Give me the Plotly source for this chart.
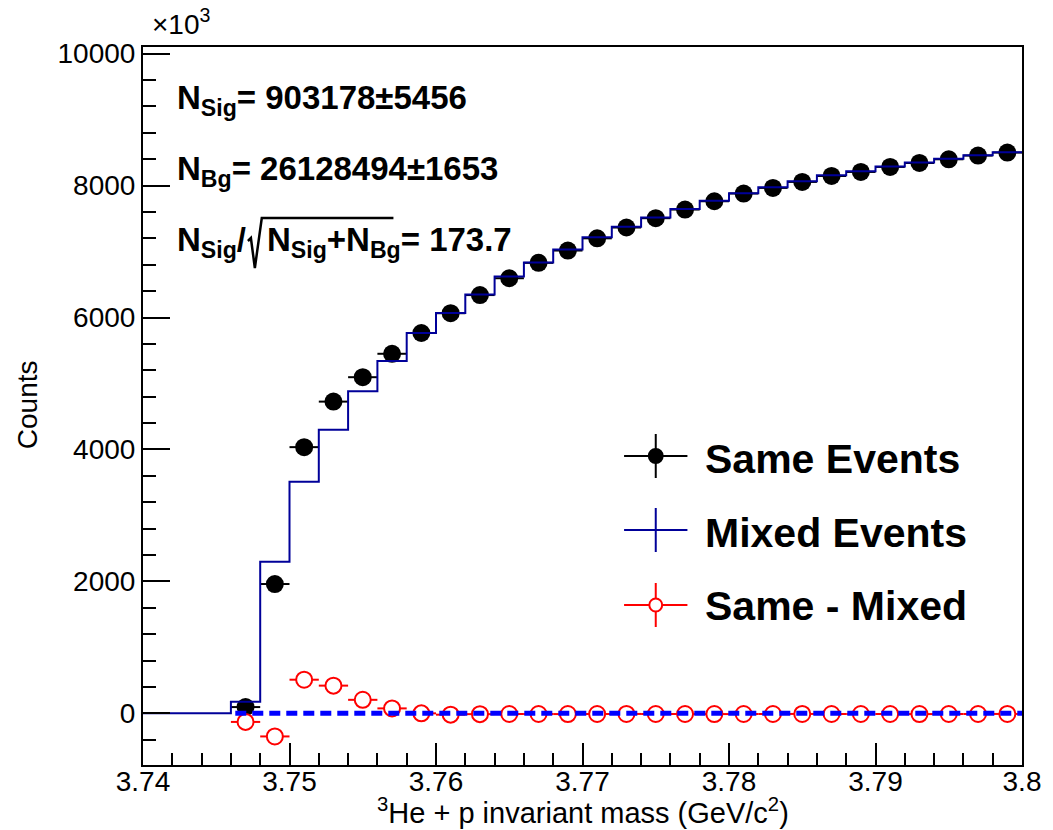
import numpy as np
import plotly.graph_objects as go

# ---------------- data (counts in units of 10^3) ----------------
mass_centers = [3.747, 3.749, 3.751, 3.753, 3.755, 3.757, 3.759, 3.761, 3.763,
                3.765, 3.767, 3.769, 3.771, 3.773, 3.775, 3.777, 3.779, 3.781,
                3.783, 3.785, 3.787, 3.789, 3.791, 3.793, 3.795, 3.797, 3.799]
same_events = [95, 1960, 4035, 4725, 5095, 5450, 5765, 6065, 6340,
               6595, 6828, 7015, 7200, 7364, 7505, 7636, 7762, 7879,
               7964, 8055, 8145, 8206, 8282, 8342, 8398, 8454, 8500]
same_minus_mixed = [-130, -350, 510, 420, 205, 75, 0, -20, -12,
                    -10, -10, -11, -10, -9, -10, -10, -11, -10,
                    -10, -9, -10, -10, -10, -11, -10, -10, -9]
mixed_bin_centers = [3.741, 3.743, 3.745] + mass_centers
mixed_events = [0, 0, 0, 176, 2297, 3509, 4297, 4883, 5342, 5765, 6070, 6350,
                6620, 6835, 7030, 7215, 7375, 7515, 7645, 7770, 7885,
                7975, 8065, 8155, 8215, 8290, 8350, 8405, 8460, 8505]
bin_half_width = 0.001
fit_x = [3.7463, 3.800]
fit_y = [0, 0]

x_tickvals = [3.74, 3.75, 3.76, 3.77, 3.78, 3.79, 3.80]
x_ticktext = ["3.74", "3.75", "3.76", "3.77", "3.78", "3.79", "3.8"]
y_tickvals = [0, 2000, 4000, 6000, 8000, 10000]
y_ticktext = ["0", "2000", "4000", "6000", "8000", "10000"]

# ---------------- layout geometry ----------------
W, H = 1053, 830
L, R, T, B = 143, 22, 47, 65
PW, PH = W - L - R, H - T - B
FONT = "Liberation Sans, Arial, sans-serif"


def px(xp):
    return (xp - L) / PW


def py(yp):
    return (H - B - yp) / PH


# histogram edges for step drawing
mc = np.array(mixed_bin_centers)
edges = np.append(mc - bin_half_width, mc[-1] + bin_half_width)
step_y = np.append(np.array(mixed_events), mixed_events[-1])

fig = go.Figure()

# Same events (black points)
fig.add_trace(go.Scatter(
    x=mass_centers, y=same_events, mode="markers",
    marker=dict(symbol="circle", size=18, color="black"),
    error_x=dict(type="constant", value=bin_half_width, color="black",
                 thickness=2, width=0),
    showlegend=False, name="Same Events"))

# Mixed events (histogram)
fig.add_trace(go.Scatter(
    x=edges, y=step_y, mode="lines", line_shape="hv",
    line=dict(color="#000099", width=2),
    showlegend=False, name="Mixed Events"))

# Same - Mixed (red open circles)
fig.add_trace(go.Scatter(
    x=mass_centers, y=same_minus_mixed, mode="markers",
    marker=dict(symbol="circle", size=16, color="white",
                line=dict(color="red", width=2)),
    error_x=dict(type="constant", value=bin_half_width, color="red",
                 thickness=2, width=0),
    showlegend=False, name="Same - Mixed"))

# zero line fit (blue dashed)
fig.add_trace(go.Scatter(
    x=fit_x, y=fit_y, mode="lines",
    line=dict(color="#0000ff", width=5, dash="11px,6px"),
    showlegend=False, name="fit"))

axis_common = dict(
    showline=True, linecolor="black", linewidth=2, mirror=True,
    ticks="inside", tickwidth=2, tickcolor="black",
    showgrid=False, zeroline=False,
    tickfont=dict(family=FONT, size=28, color="black"),
)

fig.update_xaxes(range=[3.74, 3.80], tickvals=x_tickvals, ticktext=x_ticktext,
                 ticklen=22, ticklabelstandoff=-10,
                 minor=dict(dtick=0.002, tick0=3.74, ticks="inside", ticklen=12,
                            tickwidth=2, tickcolor="black", showgrid=False),
                 **axis_common)
fig.update_yaxes(range=[-783, 10100], tickvals=y_tickvals, ticktext=y_ticktext,
                 ticklen=27,
                 minor=dict(dtick=400, tick0=0, ticks="inside", ticklen=13,
                            tickwidth=2, tickcolor="black", showgrid=False),
                 **axis_common)

ann = []
# axis titles
ann.append(dict(text="<sup>3</sup>He + p invariant mass (GeV/c<sup>2</sup>)",
                x=px(798), y=py(811), xanchor="right", yanchor="middle",
                font=dict(family=FONT, size=29, color="black")))
ann.append(dict(text="Counts", textangle=-90,
                x=px(26), y=py(405), xanchor="center", yanchor="middle",
                font=dict(family=FONT, size=28, color="black")))
ann.append(dict(text="×10<sup>3</sup>",
                x=px(150), y=py(22), xanchor="left", yanchor="middle",
                font=dict(family=FONT, size=28, color="black")))
# statistics text
stat_font = dict(family=FONT, size=33, color="black")
ann.append(dict(text="<b>N<sub>Sig</sub>= 903178±5456</b>",
                x=px(175), y=py(100), xanchor="left", yanchor="middle", font=stat_font))
ann.append(dict(text="<b>N<sub>Bg</sub>= 26128494±1653</b>",
                x=px(175), y=py(171), xanchor="left", yanchor="middle", font=stat_font))
ann.append(dict(text="<b>N<sub>Sig</sub>/</b>",
                x=px(175), y=py(242), xanchor="left", yanchor="middle", font=stat_font))
ann.append(dict(text="<b>N<sub>Sig</sub>+N<sub>Bg</sub>= 173.7</b>",
                x=px(266), y=py(242), xanchor="left", yanchor="middle", font=stat_font))
# legend text
leg_font = dict(family=FONT, size=41, color="black")
for label, yc in [("Same Events", 459), ("Mixed Events", 533), ("Same - Mixed", 606)]:
    ann.append(dict(text="<b>" + label + "</b>", x=px(709), y=py(yc),
                    xanchor="left", yanchor="middle", font=leg_font))
for a in ann:
    a.update(xref="paper", yref="paper", showarrow=False)
fig.update_layout(annotations=ann)

shapes = []
# radical sign
shapes.append(dict(type="path", xref="paper", yref="paper",
                   path=f"M {px(249)},{py(241)} L {px(252)},{py(238)} L {px(256)},{py(268)} "
                        f"L {px(263)},{py(218)} L {px(396)},{py(218)}",
                   line=dict(color="black", width=2.5)))
# legend symbols
leg_syms = [(456, "black", True), (530, "#000099", None), (605, "red", False)]
for yc, col, filled in leg_syms:
    shapes.append(dict(type="line", xref="paper", yref="paper",
                       x0=px(629), x1=px(693), y0=py(yc), y1=py(yc),
                       line=dict(color=col, width=2)))
    shapes.append(dict(type="line", xref="paper", yref="paper",
                       x0=px(661), x1=px(661), y0=py(yc - 22), y1=py(yc + 22),
                       line=dict(color=col, width=2)))
    if filled is not None:
        r = 7 if filled else 6.5
        shapes.append(dict(type="circle", xref="paper", yref="paper",
                           x0=px(661 - r), x1=px(661 + r), y0=py(yc - r), y1=py(yc + r),
                           fillcolor=col if filled else "white",
                           line=dict(color=col, width=2)))
fig.update_layout(shapes=shapes)

fig.update_layout(
    width=W, height=H,
    margin=dict(l=L, r=R, t=T, b=B, pad=0),
    paper_bgcolor="white", plot_bgcolor="white",
    font=dict(family=FONT, color="black"),
    showlegend=False,
)

fig.write_html("out.html")
